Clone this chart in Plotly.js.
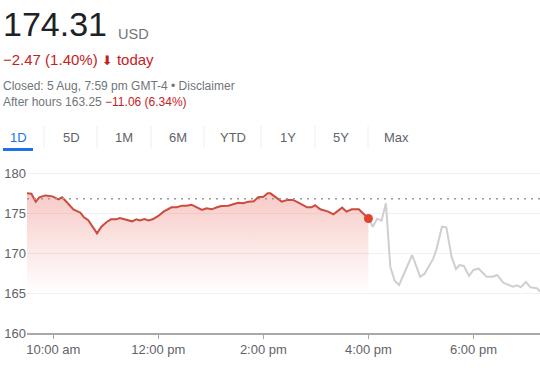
<!DOCTYPE html>
<html>
<head>
<meta charset="utf-8">
<script src="https://cdn.plot.ly/plotly-3.0.1.min.js"></script>
<style>
html,body{margin:0;padding:0;background:#fff;}
#chart{width:540px;height:372px;}
</style>
</head>
<body>
<div id="chart"></div>
<script>
// ---- data ----
const day = '2024-08-05';
const sessionTimes = ['09:30','09:35','09:40','09:44','09:51','09:59','10:06','10:10','10:15','10:23','10:31','10:35','10:40','10:46','10:50','10:55','11:01','11:06','11:12','11:16','11:22','11:30','11:35','11:39','11:44','11:49','11:54','12:00','12:06','12:10','12:15','12:21','12:27','12:32','12:38','12:44','12:50','12:55','13:01','13:07','13:12','13:20','13:26','13:31','13:37','13:43','13:49','13:54','14:00','14:05','14:08','14:13','14:21','14:27','14:34','14:40','14:50','14:55','14:59','15:05','15:14','15:20','15:24','15:30','15:35','15:41','15:49','15:54','16:00'];
const sessionPrices = [177.46,177.4,176.4,176.96,177.2,177.08,176.7,176.96,176.4,175.46,175.04,174.46,174.1,173.08,172.46,173.29,173.88,174.21,174.21,174.38,174.21,173.96,174.21,174.08,174.25,174.08,174.25,174.63,175.17,175.38,175.71,175.71,175.92,175.92,176.04,175.71,175.38,175.58,175.46,175.71,175.88,175.92,176.13,176.29,176.21,176.42,176.46,176.96,177.04,177.46,177.46,177.04,176.42,176.63,176.63,176.29,175.71,175.71,175.96,175.46,175.17,174.83,175.17,175.67,175.17,175.46,175.46,174.88,174.31];
const afterTimes = ['16:00','16:05','16:10','16:15','16:20','16:25','16:30','16:35','16:50','16:59','17:04','17:14','17:18','17:24','17:29','17:35','17:40','17:44','17:49','17:55','18:00','18:06','18:15','18:22','18:27','18:34','18:45','18:50','18:54','19:00','19:05','19:13','19:16'];
const afterPrices = [174.31,173.29,174.29,174.04,176.21,168.29,166.54,166.0,169.75,167.04,167.38,169.29,170.58,173.29,173.21,169.54,168.0,168.5,168.38,167.13,167.88,168.04,167.04,167.04,167.25,166.29,165.79,165.96,165.71,166.38,165.71,165.58,165.17];
const previousClose = 176.78;
const closePrice = 174.31;
const closeTime = '16:00';
const xTickTimes = ['10:00','12:00','14:00','16:00','18:00'];
const xTickLabels = ['10:00 am','12:00 pm','2:00 pm','4:00 pm','6:00 pm'];
const yTicks = [160,165,170,175,180];
const tabLabels = ['1D','5D','1M','6M','YTD','1Y','5Y','Max'];

// ---- helpers ----
const T = t => day + ' ' + t;
const L = 27, R = 540, TOP = 165, BOT = 333;
const px = x => (x - L) / (R - L);
const py = y => (BOT - y) / (BOT - TOP);
const FONT = '"Liberation Sans", Arimo, Arial, sans-serif';
const RED = '#c5221f';
const GREY = '#70757a';

const traces = [
  {
    x: sessionTimes.map(T), y: sessionPrices, type: 'scatter', mode: 'lines',
    line: {color: '#cc4b3e', width: 2},
    fill: 'tozeroy',
    fillgradient: {type: 'vertical', start: 165, stop: 177.5,
      colorscale: [[0, 'rgba(230,90,80,0)'], [1, 'rgba(230,90,80,0.32)']]},
    hoverinfo: 'skip'
  },
  {
    x: afterTimes.map(T), y: afterPrices, type: 'scatter', mode: 'lines',
    line: {color: '#cfcfcf', width: 2}, hoverinfo: 'skip'
  },
  {
    x: [T(closeTime)], y: [closePrice], type: 'scatter', mode: 'markers',
    marker: {color: '#e0432f', size: 9}, hoverinfo: 'skip'
  }
];

const annotations = [
  {text: '174.31', x: px(2), y: py(24), font: {size: 34, color: '#202124'}},
  {text: 'USD', x: px(117), y: py(34), font: {size: 14.5, color: GREY}},
  {text: '\u22122.47 (1.40%) <span style="font-family:\'DejaVu Sans\';font-size:13px">\u2B07</span> today', x: px(2), y: py(59), font: {size: 15, color: RED}},
  {text: 'Closed: 5 Aug, 7:59 pm GMT-4 \u2022 Disclaimer', x: px(2), y: py(86), font: {size: 12, color: GREY}},
  {text: 'After hours 163.25 <span style="color:' + RED + '">\u221211.06 (6.34%)</span>', x: px(2), y: py(102), font: {size: 12, color: GREY}}
].map(a => Object.assign({xref: 'paper', yref: 'paper', xanchor: 'left', yanchor: 'middle', showarrow: false, borderpad: 0}, a));

const tabCenters = [18, 71, 124, 177.5, 233, 288, 341, 396];
tabLabels.forEach((t, i) => {
  annotations.push({text: t, x: px(tabCenters[i]), y: py(137), xref: 'paper', yref: 'paper',
    xanchor: 'center', yanchor: 'middle', showarrow: false, borderpad: 0,
    font: {size: 13, color: i === 0 ? '#1a73e8' : '#5f6368'}});
});

const shapes = [
  {type: 'line', xref: 'paper', x0: 0, x1: 1, yref: 'y', y0: previousClose, y1: previousClose,
   line: {color: '#9a9a9a', width: 1.5, dash: '2px,5px'}, layer: 'above'},
  {type: 'rect', xref: 'paper', yref: 'paper', x0: px(3), x1: px(33), y0: py(151), y1: py(148),
   fillcolor: '#1a73e8', line: {width: 0}}
];
[44, 97, 151, 204, 261, 315, 368].forEach(x => {
  shapes.push({type: 'line', xref: 'paper', yref: 'paper', x0: px(x), x1: px(x), y0: py(126), y1: py(148),
    line: {color: '#eeeeee', width: 1}});
});

const layout = {
  width: 540, height: 372,
  margin: {l: L, r: 540 - R, t: TOP, b: 372 - BOT, pad: 0},
  paper_bgcolor: '#ffffff', plot_bgcolor: '#ffffff',
  showlegend: false,
  font: {family: FONT, color: GREY, size: 13},
  xaxis: {
    type: 'date', range: [T('09:30'), T('19:16')],
    tickvals: xTickTimes.map(T), ticktext: xTickLabels,
    showgrid: false, zeroline: false,
    showline: true, linecolor: '#a8a8a8', linewidth: 1.5,
    ticks: 'outside', ticklen: 4, tickwidth: 1.2, tickcolor: '#a8a8a8',
    tickfont: {size: 13, color: '#5f6368'}, fixedrange: true
  },
  yaxis: {
    range: [160, 181], tickvals: yTicks, ticktext: yTicks.map(String),
    showgrid: true, gridcolor: '#f1f1f1', gridwidth: 1,
    zeroline: false, showline: false, ticks: '',
    tickfont: {size: 13, color: '#5f6368'}, fixedrange: true
  },
  annotations: annotations,
  shapes: shapes
};

Plotly.newPlot('chart', traces, layout, {staticPlot: true, displayModeBar: false});
</script>
</body>
</html>
